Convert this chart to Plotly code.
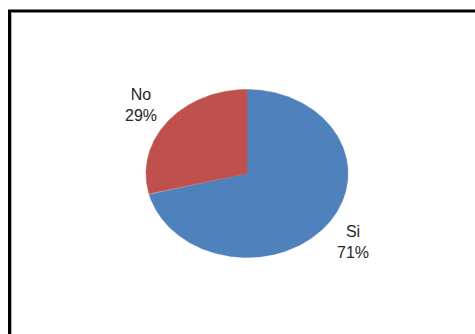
import math
import plotly.graph_objects as go

# Survey answers
categories = ["Si", "No"]
values = [71, 29]
colors = ["#4F81BD", "#C0504D"]

# Pie geometry (drawn as an ellipse in pixel-like axis units)
W, H = 475, 334
cx, cy = 247, 173.5
rx, ry = 101, 84
label_factor = 1.33

total = sum(values)
fig = go.Figure()

start = 0.0  # degrees, clockwise from 12 o'clock
for cat, val, col in zip(categories, values, colors):
    span = 360.0 * val / total
    n = max(int(span * 2), 8)
    xs, ys = [cx], [cy]
    for i in range(n + 1):
        a = math.radians(start + span * i / n)
        xs.append(cx + rx * math.sin(a))
        ys.append(cy - ry * math.cos(a))
    xs.append(cx)
    ys.append(cy)
    fig.add_trace(go.Scatter(
        x=xs, y=ys, mode="lines", fill="toself", fillcolor=col,
        line=dict(color=col, width=0.5), hoverinfo="skip", showlegend=False,
    ))
    mid = math.radians(start + span / 2)
    pct = round(100.0 * val / total)
    fig.add_annotation(
        x=cx + rx * label_factor * math.sin(mid),
        y=cy - ry * label_factor * math.cos(mid),
        xref="x", yref="y", showarrow=False,
        text=f"{cat}<br>{pct}%", align="center",
        font=dict(family="Liberation Sans, Arial, sans-serif", size=16, color="#262626"),
    )
    start += span

# Chart frame (top and left edges visible inside the canvas)
fig.add_shape(type="rect", xref="x", yref="y", x0=9.5, y0=11, x1=W + 20, y1=H + 20,
              line=dict(color="black", width=3), fillcolor="rgba(0,0,0,0)", layer="above")
fig.add_shape(type="line", xref="x", yref="y", x0=11.5, y0=12.5, x1=11.5, y1=H + 20,
              line=dict(color="#b0b0b0", width=1), layer="above")

fig.update_layout(
    width=W, height=H,
    margin=dict(l=0, r=0, t=0, b=0),
    paper_bgcolor="white", plot_bgcolor="white",
    xaxis=dict(range=[0, W], visible=False, fixedrange=True),
    yaxis=dict(range=[H, 0], visible=False, fixedrange=True),
    showlegend=False,
)

fig.write_html("out.html")
